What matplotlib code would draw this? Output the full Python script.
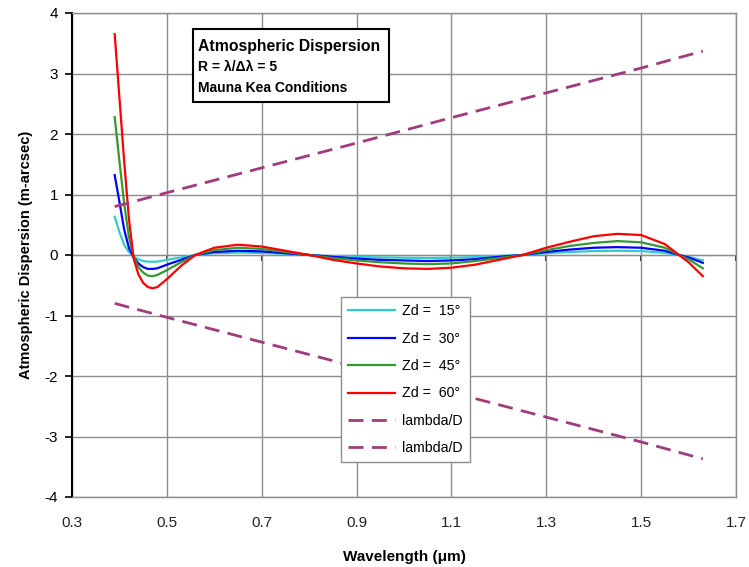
import numpy as np
import matplotlib
matplotlib.use("Agg")
import matplotlib.pyplot as plt
from matplotlib.patches import Rectangle

plt.rcParams['font.family'] = ['Liberation Sans', 'DejaVu Sans']
plt.rcParams['axes.unicode_minus'] = False

# wavelength (um) and dispersion (m-arcsec)
wl = [0.39, 0.40, 0.41, 0.42, 0.43, 0.44, 0.45, 0.46, 0.47, 0.48, 0.50, 0.53, 0.56, 0.60,
      0.65, 0.70, 0.75, 0.80, 0.85, 0.90, 0.95, 1.00, 1.05, 1.10, 1.15, 1.20, 1.25,
      1.30, 1.35, 1.40, 1.45, 1.50, 1.55, 1.58, 1.60, 1.63]
zd15 = [0.63, 0.38, 0.17, 0.05, -0.03, -0.07, -0.10, -0.11, -0.11, -0.11, -0.08, -0.04, 0.0, 0.03,
        0.04, 0.035, 0.02, 0.0, -0.02, -0.03, -0.04, -0.045, -0.05, -0.045, -0.035, -0.015, 0.0,
        0.03, 0.05, 0.065, 0.07, 0.065, 0.035, 0.0, -0.03, -0.09]
zd30 = [1.32, 0.88, 0.42, 0.12, -0.04, -0.14, -0.20, -0.23, -0.23, -0.22, -0.16, -0.08, 0.0, 0.05,
        0.07, 0.06, 0.03, 0.0, -0.03, -0.06, -0.08, -0.09, -0.10, -0.09, -0.07, -0.03, 0.0,
        0.05, 0.09, 0.12, 0.13, 0.12, 0.07, 0.0, -0.04, -0.13]
zd45 = [2.28, 1.55, 0.85, 0.30, -0.03, -0.20, -0.29, -0.34, -0.35, -0.33, -0.25, -0.12, 0.0, 0.08,
        0.12, 0.10, 0.05, 0.0, -0.05, -0.09, -0.12, -0.14, -0.15, -0.14, -0.10, -0.05, 0.0,
        0.08, 0.15, 0.20, 0.23, 0.21, 0.12, 0.0, -0.07, -0.22]
zd60 = [3.65, 2.60, 1.55, 0.60, -0.06, -0.32, -0.46, -0.53, -0.55, -0.53, -0.40, -0.18, 0.0, 0.12,
        0.17, 0.14, 0.07, 0.0, -0.08, -0.14, -0.19, -0.22, -0.23, -0.21, -0.16, -0.08, 0.0,
        0.12, 0.22, 0.31, 0.35, 0.33, 0.18, 0.0, -0.12, -0.35]

wl_d = [0.39, 0.5, 0.7, 0.9, 1.1, 1.3, 1.5, 1.63]
lam_d_up = [0.80, 1.03, 1.44, 1.85, 2.27, 2.68, 3.09, 3.37]
lam_d_lo = [-0.80, -1.03, -1.44, -1.85, -2.27, -2.68, -3.09, -3.37]

labels = ['Zd =  15°', 'Zd =  30°', 'Zd =  45°', 'Zd =  60°', 'lambda/D', 'lambda/D']
colors = ['#33CCCC', '#0000FF', '#339933', '#FF0000']
xticks = [0.3, 0.5, 0.7, 0.9, 1.1, 1.3, 1.5, 1.7]

W, H = 749, 567
fig = plt.figure(figsize=(W / 100, H / 100), dpi=100)
ax = fig.add_axes([72 / W, 1 - 497 / H, (736 - 72) / W, (497 - 13) / H])

for ys, c, lab in zip([zd15, zd30, zd45, zd60], colors, labels[:4]):
    ax.plot(wl, ys, color=c, lw=1.6, label=lab, zorder=3)
ax.plot(wl_d, lam_d_up, color='#A03C7C', lw=2, dashes=(5.4, 3), label=labels[4], zorder=3)
ax.plot(wl_d, lam_d_lo, color='#A03C7C', lw=2, dashes=(5.4, 3), label=labels[5], zorder=3)

ax.set_xlim(0.3, 1.7)
ax.set_ylim(-4, 4)
ax.set_xticks(xticks)
ax.set_xticklabels([str(t) for t in xticks])
ax.set_yticks(range(-4, 5))
ax.grid(True, color='#8C8C8C', lw=1)
ax.set_axisbelow(True)
ax.tick_params(axis='x', length=0, labelsize=11, pad=14, colors='#222222')
ax.tick_params(axis='y', direction='out', length=5, width=1.2, labelsize=11, pad=5,
               colors='black')
for s in ['top', 'right', 'bottom']:
    ax.spines[s].set_color('#8C8C8C')
    ax.spines[s].set_linewidth(1)
ax.spines['left'].set_color('black')
ax.spines['left'].set_linewidth(1.5)

# x axis crossing at zero, with its tick marks pointing down
sec = ax.secondary_xaxis(0.5)
sec.set_xticks(xticks)
sec.set_xticklabels([])
sec.tick_params(direction='in', length=4, width=1.2)
sec.spines['bottom'].set_linewidth(2.2)
sec.spines['bottom'].set_color('#111111')

ax.set_xlabel('Wavelength (\u03bcm)', fontsize=11, fontweight='bold', labelpad=14)
ax.set_ylabel('Atmospheric Dispersion (m-arcsec)', fontsize=10.5, fontweight='bold', labelpad=8)

leg = ax.legend(loc='upper left', bbox_to_anchor=(341 / W, 1 - 297 / H),
                bbox_transform=fig.transFigure, fontsize=10.2, handlelength=3.3,
                labelspacing=0.95, handletextpad=0.5, borderpad=0.5, borderaxespad=0,
                fancybox=False, framealpha=1, edgecolor='#8C8C8C')
leg.get_frame().set_linewidth(1)

# title box
fig.patches.append(Rectangle((193 / W, 1 - 102 / H), (389 - 193) / W, (102 - 29) / H,
                             transform=fig.transFigure, facecolor='white',
                             edgecolor='black', lw=1.5, zorder=5))
fig.text(198 / W, 1 - 46 / H, 'Atmospheric Dispersion', fontsize=11.3, fontweight='bold',
         va='center', zorder=6)
fig.text(198 / W, 1 - 67 / H, 'R = \u03bb/\u0394\u03bb = 5', fontsize=10, fontweight='bold',
         va='center', zorder=6)
fig.text(198 / W, 1 - 88 / H, 'Mauna Kea Conditions', fontsize=10, fontweight='bold',
         va='center', zorder=6)

fig.savefig('out.png', dpi=100)
